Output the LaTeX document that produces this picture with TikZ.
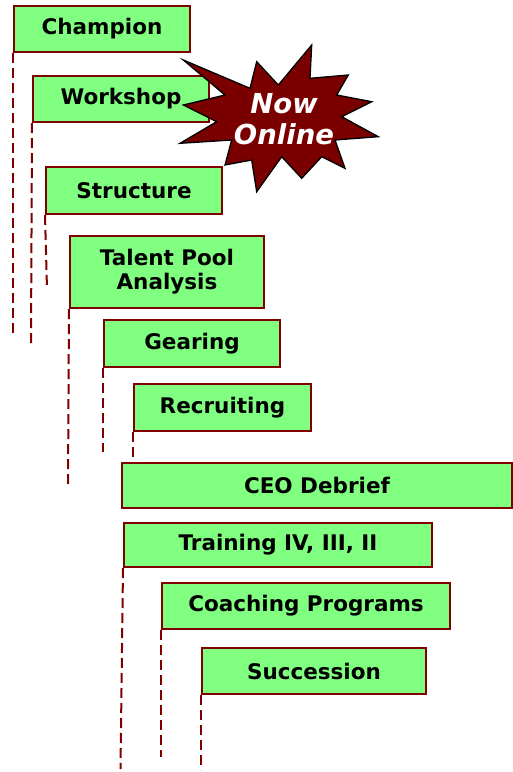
\documentclass[tikz,border=0pt]{standalone}
\usepackage{fontspec}
\setmainfont{DejaVu Sans}
\definecolor{boxgreen}{HTML}{80FF80}
\definecolor{darkred}{HTML}{800000}
\definecolor{starred}{HTML}{7A0000}
\begin{document}
\begin{tikzpicture}[x=1pt,y=-1pt,
  stepbox/.style={draw=darkred,line width=2pt,fill=boxgreen,inner sep=0pt,
    anchor=north west,align=center,font=\fontsize{21.5}{24}\selectfont\bfseries},
  dline/.style={draw=darkred,line width=2pt,dash pattern=on 10pt off 5pt},
  startext/.style={text=white,inner sep=0pt,font=\fontsize{27.5}{31}\selectfont\bfseries\itshape,align=center}
]
\useasboundingbox (0,0) rectangle (512,772);

\node[stepbox,minimum width=176pt,minimum height=46pt] (champ) at (13,5) {Champion};
\node[stepbox,minimum width=176pt,minimum height=46pt] (work) at (32,75) {Workshop};
\node[stepbox,minimum width=176pt,minimum height=47pt] (struct) at (45,166) {Structure};
\node[stepbox,minimum width=194pt,minimum height=72pt] (talent) at (69,235) {Talent Pool\\Analysis};
\node[stepbox,minimum width=176pt,minimum height=47pt] (gear) at (103,319) {Gearing};
\node[stepbox,minimum width=177pt,minimum height=47pt] (recruit) at (133,383) {Recruiting};
\node[stepbox,minimum width=390pt,minimum height=45pt] (ceo) at (121,462) {CEO Debrief};
\node[stepbox,minimum width=308pt,minimum height=44pt] (train) at (123,522) {Training IV, III, II};
\node[stepbox,minimum width=288pt,minimum height=46pt] (coach) at (161,582) {Coaching Programs};
\node[stepbox,minimum width=224pt,minimum height=46pt] (succ) at (201,647) {Succession};

\draw[dline] (champ.south west) -- ++(0,282);
\draw[dline] (work.south west) -- ++(-1,221);
\draw[dline] (struct.south west) -- ++(2,74);
\draw[dline] (talent.south west) -- ++(-1,176);
\draw[dline] (gear.south west) -- ++(0,84);
\draw[dline] (recruit.south west) -- (recruit.south west |- ceo.north);
\draw[dline] (train.south west) -- ++(-2.5,201);
\draw[dline] (coach.south west) -- ++(0,127);
\draw[dline] (succ.south west) -- ++(0,75);

% starburst
\draw[fill=starred,draw=black,line width=1.3pt,line join=miter]
  (311.7,45) -- (310,78.3) -- (348.3,75) -- (336.7,95) -- (371.7,101.7)
  -- (341.7,116.7) -- (378.3,136.7) -- (335,140) -- (345,168.3)
  -- (321.7,156.7) -- (301.7,178.3) -- (281.7,156.7) -- (256.7,191.7)
  -- (251.7,160) -- (225,165) -- (231.7,140) -- (180,143.3)
  -- (216.7,121.7) -- (183.3,105) -- (225,95) -- (183.3,60)
  -- (250,88.3) -- (256.7,61.7) -- (278.3,85) -- cycle;
\node[startext] (online) at (284,119) {Now\\Online};
\end{tikzpicture}
\end{document}
